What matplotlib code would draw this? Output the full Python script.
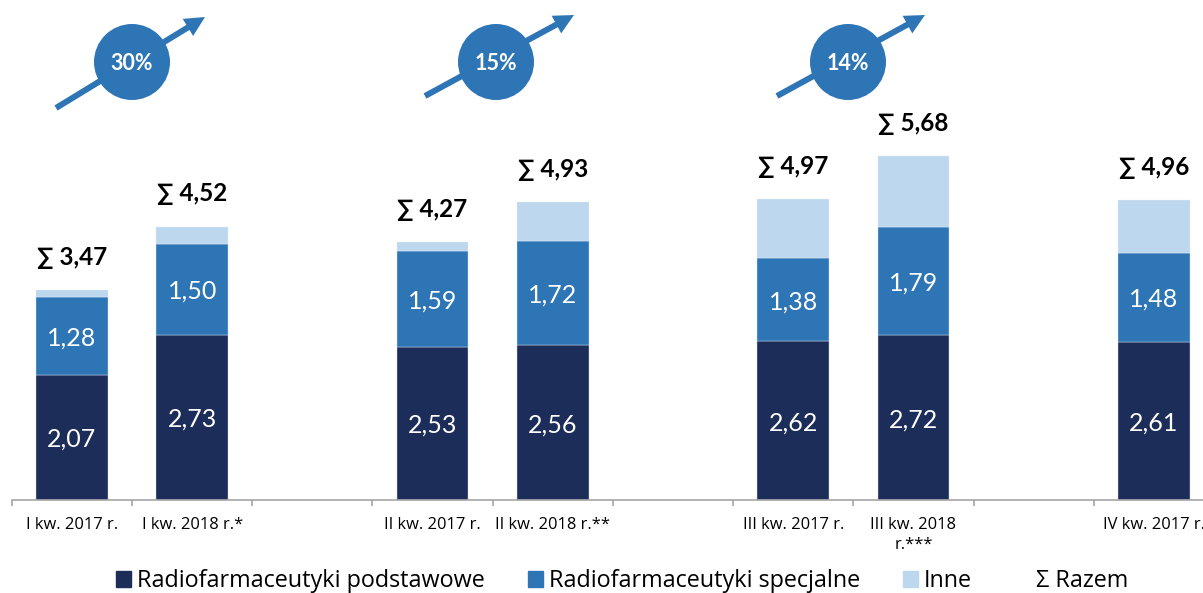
import numpy as np
import matplotlib
matplotlib.use('Agg')
import matplotlib.pyplot as plt
from matplotlib.patches import Circle, FancyArrow, Patch

categories = ['I kw. 2017 r.', 'I kw. 2018 r.*', '', 'II kw. 2017 r.', 'II kw. 2018 r.**', '',
              'III kw. 2017 r.', 'III kw. 2018\nr.***', '', 'IV kw. 2017 r.']
podstawowe = [2.07, 2.73, np.nan, 2.53, 2.56, np.nan, 2.62, 2.72, np.nan, 2.61]
specjalne = [1.28, 1.50, np.nan, 1.59, 1.72, np.nan, 1.38, 1.79, np.nan, 1.48]
inne = [0.12, 0.29, np.nan, 0.15, 0.65, np.nan, 0.97, 1.17, np.nan, 0.87]
razem = [3.47, 4.52, np.nan, 4.27, 4.93, np.nan, 4.97, 5.68, np.nan, 4.96]
wzrost = ['30%', '15%', '14%']

W, H = 1203, 593
DARK = '#1C2D5A'
BLUE = '#2E75B6'
LIGHT = '#BDD7EE'
BODY = ['Lato', 'DejaVu Sans']
LABEL = ['Open Sans', 'DejaVu Sans']


def fmt(v):
    return f'{v:.2f}'.replace('.', ',')


def main():
    fig = plt.figure(figsize=(W / 100, H / 100), dpi=100)
    ax = fig.add_axes([11.5 / W, (H - 500) / H, (W - 11.5) / W, 500 / H])

    x = np.arange(len(categories))
    pod = np.array(podstawowe)
    spe = np.array(specjalne)
    inn = np.array(inne)
    ax.bar(x, pod, 0.595, color=DARK, edgecolor='#d5dbe6', linewidth=0.3)
    ax.bar(x, spe, 0.595, bottom=pod, color=BLUE, edgecolor='#d5e3f0', linewidth=0.3)
    ax.bar(x, inn, 0.595, bottom=pod + spe, color=LIGHT, edgecolor='#e4eef8', linewidth=0.3)

    for i in x:
        if np.isnan(pod[i]):
            continue
        ax.annotate(fmt(pod[i]), (i, pod[i] / 2), xytext=(0, -1.5), textcoords='offset points',
                    color='white', ha='center', va='center', fontsize=18, family=BODY)
        ax.annotate(fmt(spe[i]), (i, pod[i] + spe[i] / 2), xytext=(0, -1.5), textcoords='offset points',
                    color='white', ha='center', va='center', fontsize=18, family=BODY)
        ax.annotate('∑ ' + fmt(razem[i]), (i, razem[i]), xytext=(0, 23.5), textcoords='offset points',
                    ha='center', va='center', fontsize=17.5, fontweight='bold', family=BODY)

    ax.set_xlim(-0.503, 9.409)
    ax.set_ylim(0, 500 / 60.5)
    ax.set_yticks([])
    for s in ['top', 'left', 'right']:
        ax.spines[s].set_visible(False)
    ax.spines['bottom'].set_color('#a6a6a6')
    ax.spines['bottom'].set_linewidth(1.2)
    ax.set_xticks(x)
    ax.set_xticklabels(categories, fontsize=11.9, family=LABEL, linespacing=1.3)
    ax.tick_params(axis='x', which='major', length=0, pad=12.5)
    ax.set_xticks(np.arange(-0.5, 9.5, 1), minor=True)
    ax.tick_params(axis='x', which='minor', length=4.5, width=1.2, color='#a6a6a6')

    # strzalki ze wzrostem, wspolrzedne w pikselach obrazka
    over = fig.add_axes([0, 0, 1, 1], facecolor='none')
    over.set_xlim(0, W)
    over.set_ylim(H, 0)
    over.axis('off')
    starts = [(56, 108), (425, 96), (777, 96)]
    ends = [(205, 17), (574, 15), (925, 15)]
    centers = [(132, 62), (496, 62), (848, 62)]
    for s, e, c, t in zip(starts, ends, centers, wzrost):
        over.add_patch(FancyArrow(s[0], s[1], e[0] - s[0], e[1] - s[1], width=6, head_width=20,
                                  head_length=20, length_includes_head=True, color=BLUE, lw=0))
        over.add_patch(Circle(c, 38, color=BLUE, lw=0))
        over.text(c[0], c[1] + 1, t, color='white', ha='center', va='center', fontsize=15.5,
                  fontweight='bold', family=BODY)

    handles = [Patch(color=DARK), Patch(color=BLUE), Patch(color=LIGHT), Patch(color='none')]
    names = ['Radiofarmaceutyki podstawowe', 'Radiofarmaceutyki specjalne', 'Inne', 'Σ Razem']
    fig.legend(handles, names, ncols=4, loc='center', bbox_to_anchor=(622 / W, (H - 581) / H),
               frameon=False, prop={'family': LABEL, 'size': 16.8}, handlelength=0.64, handleheight=0.64,
               handletextpad=0.26, columnspacing=1.85, borderpad=0)

    fig.savefig('out.png', dpi=100)


if __name__ == '__main__':
    main()
